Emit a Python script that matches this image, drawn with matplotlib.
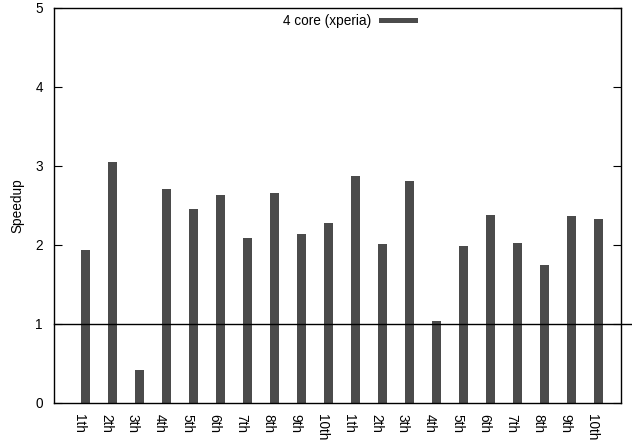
import matplotlib
matplotlib.use("Agg")
import matplotlib.pyplot as plt
from matplotlib.patches import Rectangle

plt.rcParams['font.family'] = ['Liberation Sans', 'DejaVu Sans']

labels = ["1th", "2th", "3th", "4th", "5th", "6th", "7th", "8th", "9th", "10th",
          "1th", "2th", "3th", "4th", "5th", "6th", "7th", "8th", "9th", "10th"]
speedup = [1.93, 3.05, 0.42, 2.70, 2.45, 2.63, 2.08, 2.66, 2.14, 2.28,
           2.87, 2.01, 2.80, 1.03, 1.98, 2.38, 2.02, 1.74, 2.36, 2.33]
series_name = "4 core (xperia)"
yticks = [0, 1, 2, 3, 4, 5]

bar_color = "#4b4b4b"
fs = 9.8

fig = plt.figure(figsize=(6.32, 4.40), dpi=100)
ax = fig.add_axes([54 / 632, 1 - 402.7 / 440, (620.7 - 54) / 632, (402.7 - 7.7) / 440])

x = list(range(len(speedup)))
ax.bar(x, speedup, width=0.345, color=bar_color, zorder=2)

ax.set_xlim(-1.159, 19.833)
ax.set_ylim(0, 5)

# baseline of speedup = 1, running out past the right frame
ax.axhline(1, xmin=0, xmax=1.02, color="black", lw=1.0, clip_on=False, zorder=3)

ax.set_yticks(yticks)
ax.set_yticklabels([str(v) for v in yticks], fontsize=fs)
ax.tick_params(axis="y", direction="in", length=6, width=0.8, pad=8,
               right=True, left=True, colors="black")
ax.set_xticks([i - 0.233 for i in x])
ax.set_xticklabels(labels, rotation=270, fontsize=fs, ha="center", va="top")
ax.tick_params(axis="x", length=0, pad=8)

for sp in ax.spines.values():
    sp.set_linewidth(1.0)
    sp.set_color("black")

ax.set_ylabel("Speedup", fontsize=fs, labelpad=8)

# key in the upper middle of the plot
fig.text(371 / 632, 1 - 20.8 / 440, series_name, ha="right", va="center", fontsize=fs)
fig.patches.append(Rectangle((378.7 / 632, 1 - 23.3 / 440), 39 / 632, 5 / 440,
                             transform=fig.transFigure, facecolor=bar_color,
                             edgecolor="none"))

fig.savefig("out.png", dpi=100)
